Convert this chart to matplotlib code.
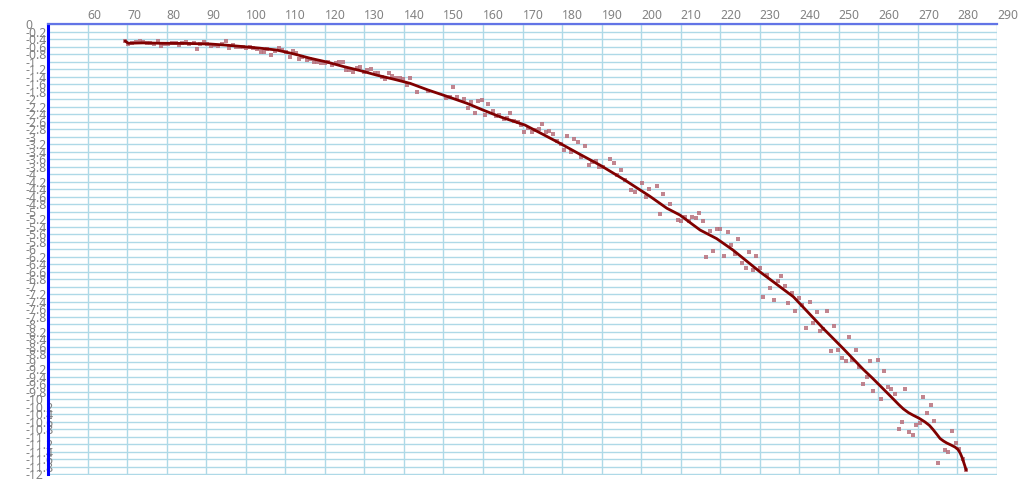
import matplotlib
matplotlib.use("Agg")
import numpy as np
import matplotlib.pyplot as plt

# scattered measurements
pts_x = [69.5, 70.3, 71.2, 72.3, 73.3, 74.1, 75.0, 75.8, 76.8, 77.7, 78.5, 79.3, 80.4, 81.3,
         82.3, 83.1, 84.0, 84.9, 85.7, 86.8, 87.6, 88.4, 89.5, 90.3, 91.1, 92.1, 92.9, 93.9,
         94.9, 95.7, 96.7, 97.6, 98.6, 99.4, 100.2, 101.1, 101.9, 102.8, 103.8, 104.6, 105.5,
         106.5, 107.4, 108.3, 109.3, 110.1, 111.2, 111.9, 112.7, 113.6, 114.3, 115.4, 116.3,
         117.3, 118.1, 119.0, 120.0, 120.9, 121.7, 122.8, 123.7, 124.5, 125.4, 126.2, 127.2,
         128.1, 128.9, 129.8, 130.8, 131.8, 132.7, 133.5, 134.4, 135.2, 136.2, 136.9, 138.0,
         138.9, 139.9, 140.7, 141.6, 143.4, 146.2, 150.7, 151.7, 152.4, 153.4, 155.2, 156.1,
         157.0, 157.9, 158.8, 159.8, 160.6, 161.4, 162.5, 163.3, 164.1, 165.2, 166.0, 166.9,
         167.9, 168.8, 169.6, 170.5, 171.5, 172.3, 173.2, 174.1, 175.0, 175.9, 176.8, 177.6,
         178.6, 179.7, 180.4, 181.3, 182.2, 183.1, 184.0, 184.9, 185.8, 186.7, 187.7, 188.6,
         189.4, 190.4, 192.1, 193.1, 194.0, 194.8, 195.8, 197.5, 198.5, 200.3, 201.2, 202.1,
         203.9, 204.8, 205.6, 207.4, 209.2, 210.2, 211.0, 212.0, 212.9, 213.8, 214.7, 215.6,
         216.4, 217.4, 218.3, 219.1, 220.0, 221.0, 221.9, 222.7, 223.7, 224.6, 225.5, 226.4,
         227.3, 228.2, 229.1, 230.0, 230.9, 231.8, 232.7, 233.5, 234.5, 235.4, 236.3, 237.2,
         238.1, 239.0, 239.9, 240.8, 241.7, 242.6, 243.5, 244.4, 245.3, 246.1, 247.1, 247.9,
         248.9, 249.8, 250.7, 251.7, 252.5, 253.4, 254.3, 255.2, 256.1, 257.1, 257.9, 258.7,
         259.8, 260.6, 261.5, 262.5, 263.3, 264.2, 265.1, 266.0, 266.8, 267.8, 268.8, 269.6,
         270.5, 271.4, 272.3, 273.2, 274.1, 275.0, 276.9, 277.7, 278.6, 279.6, 280.4, 281.3,
         282.2]
pts_y = [-0.44, -0.52, -0.49, -0.48, -0.45, -0.47, -0.50, -0.49, -0.52, -0.44, -0.57, -0.52,
         -0.52, -0.49, -0.50, -0.55, -0.49, -0.46, -0.53, -0.50, -0.65, -0.52, -0.46, -0.53,
         -0.57, -0.54, -0.57, -0.52, -0.45, -0.64, -0.56, -0.61, -0.59, -0.61, -0.64, -0.59,
         -0.64, -0.65, -0.74, -0.74, -0.65, -0.81, -0.70, -0.64, -0.68, -0.74, -0.86, -0.70,
         -0.77, -0.92, -0.86, -0.95, -0.93, -0.99, -0.99, -1.04, -1.04, -0.99, -1.08, -1.02,
         -1.00, -1.01, -1.21, -1.21, -1.26, -1.15, -1.14, -1.26, -1.21, -1.20, -1.29, -1.30,
         -1.39, -1.45, -1.30, -1.37, -1.44, -1.44, -1.46, -1.61, -1.42, -1.79, -1.77, -1.97,
         -1.94, -1.67, -1.94, -1.99, -2.22, -2.06, -2.36, -2.05, -2.02, -2.41, -2.13, -2.30,
         -2.44, -2.41, -2.51, -2.50, -2.36, -2.58, -2.59, -2.68, -2.88, -2.77, -2.88, -2.82,
         -2.78, -2.66, -2.86, -2.85, -2.91, -3.10, -3.20, -3.34, -2.97, -3.41, -3.06, -3.14,
         -3.53, -3.24, -3.74, -3.66, -3.63, -3.81, -3.81, -3.58, -3.70, -4.02, -3.88, -4.15,
         -4.42, -4.47, -4.22, -4.61, -4.40, -4.31, -5.05, -4.53, -4.80, -5.22, -5.25, -5.13,
         -5.25, -5.13, -5.16, -5.04, -5.25, -6.19, -5.50, -6.04, -5.45, -5.45, -6.18, -5.54,
         -5.87, -6.12, -5.72, -6.37, -6.49, -6.08, -6.56, -6.17, -6.49, -7.28, -6.69, -7.03,
         -7.36, -6.83, -6.70, -6.98, -7.44, -7.15, -7.65, -7.29, -7.48, -8.10, -7.41, -7.97,
         -7.66, -8.17, -8.11, -7.64, -8.71, -8.04, -8.68, -8.88, -8.98, -8.33, -8.95, -8.69,
         -9.13, -9.58, -9.41, -8.97, -9.78, -8.95, -9.98, -9.25, -9.68, -9.72, -9.85, -10.78,
         -10.60, -9.73, -10.86, -10.94, -10.67, -10.63, -9.94, -10.35, -10.14, -10.57, -11.69,
         -11.34, -11.39, -10.85, -11.15, -11.31, -11.58, -11.89]

# smoothed trend
line_x = [69.5, 70.3, 74.0, 78.3, 85.0, 91.0, 95.0, 99.4, 103.5, 107.8, 112.0, 116.3, 120.5,
          124.7, 129.0, 133.1, 137.5, 141.6, 146.2, 151.0, 155.9, 160.0, 164.3, 170.6, 175.0,
          179.5, 184.5, 189.6, 195.9, 202.2, 206.5, 209.8, 214.9, 219.1, 223.3, 230.1, 238.5,
          246.1, 251.0, 256.2, 258.5, 260.4, 262.2, 263.8, 265.1, 266.3, 267.6, 268.8, 270.3,
          271.8, 272.9, 273.9, 274.8, 275.6, 276.5, 277.3, 278.3, 279.4, 280.1, 280.7, 281.1,
          281.5, 281.9, 282.2]
line_y = [-0.44, -0.50, -0.49, -0.50, -0.505, -0.52, -0.55, -0.59, -0.63, -0.68, -0.78, -0.90,
          -1.00, -1.12, -1.23, -1.35, -1.46, -1.57, -1.75, -1.92, -2.10, -2.28, -2.46, -2.68,
          -2.92, -3.17, -3.46, -3.75, -4.15, -4.58, -4.90, -5.08, -5.48, -5.71, -6.02, -6.60,
          -7.26, -8.11, -8.63, -9.20, -9.43, -9.63, -9.82, -9.99, -10.13, -10.25, -10.35, -10.42,
          -10.50, -10.60, -10.69, -10.81, -10.93, -11.04, -11.11, -11.16, -11.21, -11.27,
          -11.33, -11.43, -11.53, -11.65, -11.78, -11.88]

x_ticks = list(range(50, 300, 10))
y_ticks = [-i / 5 for i in range(0, 61)]

label_color = "#828282"
grid_color = "#aed9e7"

plt.rcParams["font.family"] = ["Noto Sans", "DejaVu Sans"]

fig = plt.figure(figsize=(10.2, 4.87), dpi=100)
W, H = 1020, 487
ax = fig.add_axes([48 / W, 1 - 474.5 / H, (997 - 48) / W, (474.5 - 24.5) / H])

ax.set_xlim(50, 290)
ax.set_ylim(-12, 0)

ax.set_xticks(x_ticks)
ax.set_xticklabels(["" if v == 50 else str(v) for v in x_ticks])
ax.set_yticks(y_ticks)
ax.set_yticklabels(["0" if v == 0 else f"{round(v, 1):g}" for v in y_ticks])

ax.xaxis.tick_top()
ax.tick_params(axis="x", length=0, pad=1.5, labelsize=8.8, labelcolor=label_color)
ax.tick_params(axis="y", length=0, pad=16.5, labelsize=8.8, labelcolor=label_color)
for lbl in ax.get_xticklabels():
    lbl.set_horizontalalignment("left")
for lbl in ax.get_yticklabels():
    lbl.set_horizontalalignment("left")

ax.grid(True, color=grid_color, linewidth=1.0)
ax.set_axisbelow(True)

for side in ("right", "bottom"):
    ax.spines[side].set_visible(False)
ax.spines["left"].set_color("#0000ff")
ax.spines["left"].set_linewidth(2.2)
ax.spines["top"].set_color("#6274e6")
ax.spines["top"].set_linewidth(1.6)

ax.plot(pts_x, pts_y, linestyle="none", marker="s", markersize=2.4,
        color="#b8707c", alpha=0.85, markeredgewidth=0, zorder=3)
ax.plot(line_x, line_y, color="#800000", linewidth=2.0, zorder=4,
        solid_capstyle="round", solid_joinstyle="round")

fig.savefig("out.png", dpi=100)
